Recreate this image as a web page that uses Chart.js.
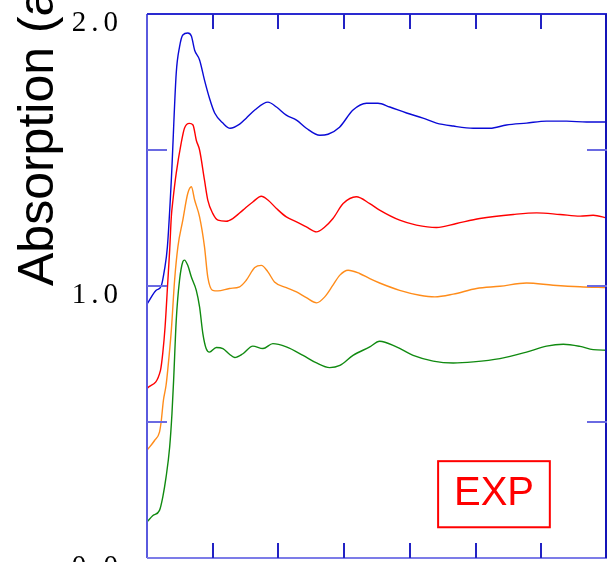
<!DOCTYPE html>
<html>
<head>
<meta charset="utf-8">
<script src="https://cdn.jsdelivr.net/npm/chart.js@4.4.1/dist/chart.umd.min.js"></script>
<style>
    body { margin: 0; background: #fff; }
    #wrap { width: 608px; height: 562px; }
</style>
</head>
<body>
<div id="wrap"><canvas id="xasChart"></canvas></div>
<script>
// energy axis (arbitrary, 0..140) and absorption values
const blueX = [0, 2.8, 4.3, 5.3, 6.2, 7.4, 8.9, 9.9, 10.9, 12.4, 13.5, 14.5, 16.0, 17.5, 19.0, 20.6, 23.1, 25.3, 28.2, 30.2, 32.8, 36.8, 39.4, 42.4, 45.5, 48.5, 52.6, 55.1, 58.6, 62.7, 66.8, 70.3, 73.9, 79.0, 84.0, 88.1, 93.2, 99.3, 104.4, 109.4, 115.5, 121.6, 127.7, 133.8, 140];
const blueY = [0.933, 0.984, 0.999, 1.058, 1.143, 1.389, 1.783, 1.879, 1.923, 1.930, 1.919, 1.867, 1.831, 1.757, 1.691, 1.636, 1.599, 1.580, 1.595, 1.617, 1.647, 1.676, 1.658, 1.628, 1.610, 1.580, 1.554, 1.558, 1.584, 1.647, 1.672, 1.672, 1.658, 1.636, 1.617, 1.599, 1.588, 1.580, 1.580, 1.592, 1.599, 1.606, 1.606, 1.603, 1.603];

const redX = [0, 4.1, 4.8, 5.5, 6.3, 6.9, 7.4, 7.9, 8.9, 10.4, 11.4, 12.9, 14.0, 15.0, 16.0, 17.5, 18.5, 20.0, 21.6, 24.1, 26.1, 29.2, 32.2, 34.8, 36.8, 39.4, 42.4, 45.5, 48.5, 51.6, 54.1, 56.6, 59.7, 63.7, 67.8, 70.8, 76.9, 82.0, 88.1, 94.2, 101.3, 111.5, 118.6, 125.7, 131.8, 135.8, 140];
const redY = [0.623, 0.690, 0.753, 0.849, 1.010, 1.132, 1.254, 1.316, 1.415, 1.525, 1.580, 1.598, 1.592, 1.536, 1.500, 1.389, 1.316, 1.267, 1.242, 1.238, 1.248, 1.279, 1.309, 1.330, 1.316, 1.285, 1.254, 1.236, 1.217, 1.199, 1.217, 1.248, 1.303, 1.328, 1.303, 1.279, 1.242, 1.224, 1.215, 1.230, 1.248, 1.263, 1.269, 1.263, 1.257, 1.260, 1.250];

const orangeX = [0, 2.3, 3.8, 4.3, 5.0, 5.8, 6.3, 7.4, 8.4, 9.4, 10.9, 12.4, 13.5, 14.5, 16.0, 17.5, 18.5, 20.0, 21.6, 25.1, 28.2, 30.2, 32.8, 34.8, 36.8, 38.8, 42.4, 45.5, 48.5, 51.6, 54.1, 56.6, 58.7, 61.2, 64.7, 67.8, 70.8, 76.9, 83.0, 87.6, 93.2, 100.3, 107.4, 115.5, 123.6, 131.8, 140];
const orangeY = [0.396, 0.432, 0.463, 0.500, 0.580, 0.635, 0.690, 0.837, 1.021, 1.144, 1.242, 1.340, 1.365, 1.316, 1.254, 1.144, 1.033, 0.984, 0.982, 0.991, 0.997, 1.021, 1.068, 1.076, 1.052, 1.015, 0.994, 0.978, 0.957, 0.938, 0.960, 1.003, 1.040, 1.058, 1.046, 1.027, 1.011, 0.984, 0.966, 0.960, 0.970, 0.991, 0.999, 1.011, 1.003, 0.997, 0.994];

const greenX = [0, 1.8, 3.8, 4.8, 5.8, 6.9, 7.6, 8.1, 8.9, 9.9, 10.9, 11.4, 12.4, 13.5, 15.0, 16.0, 17.0, 18.0, 19.0, 21.1, 23.1, 25.1, 26.7, 29.2, 32.2, 35.3, 38.3, 42.4, 47.5, 51.6, 55.6, 58.7, 62.7, 67.8, 70.8, 75.9, 81.0, 87.1, 93.2, 99.3, 107.4, 115.5, 121.6, 126.7, 131.8, 135.8, 140];
const greenY = [0.132, 0.156, 0.175, 0.224, 0.297, 0.408, 0.531, 0.653, 0.874, 1.021, 1.089, 1.095, 1.076, 1.033, 0.984, 0.923, 0.825, 0.770, 0.757, 0.774, 0.770, 0.749, 0.737, 0.751, 0.779, 0.770, 0.788, 0.776, 0.745, 0.717, 0.700, 0.708, 0.745, 0.776, 0.797, 0.776, 0.745, 0.724, 0.717, 0.721, 0.733, 0.757, 0.779, 0.786, 0.778, 0.766, 0.764];

const yTickLabels = ['0.0', '1.0', '2.0'];
const yMarkValues = [0.5, 1.0, 1.5];
const xMarkValues = [20, 40, 60, 80, 100, 120];
const yTitle = 'Absorption (a.u.)';
const boxText = 'EXP';
const boxRange = { x0: 88.6, x1: 122.6, y0: 0.356, y1: 0.113 };

function toPoints(xs, ys) {
    return xs.map(function (x, i) { return { x: x, y: ys[i] }; });
}

function makeSet(xs, ys, color) {
    return {
        data: toPoints(xs, ys),
        borderColor: color,
        borderWidth: 1.4,
        pointRadius: 0,
        cubicInterpolationMode: 'monotone',
        fill: false
    };
}

// wider spacing for the serif tick labels
const spacingPlugin = {
    id: 'spacing',
    beforeDraw: function (chart) { chart.ctx.letterSpacing = '5px'; },
    beforeDatasetsDraw: function (chart) { chart.ctx.letterSpacing = '0px'; }
};

// box frame with inward tick marks, the rotated title and the EXP label
const framePlugin = {
    id: 'frame',
    afterDraw: function (chart) {
        const ctx = chart.ctx;
        const a = chart.chartArea;
        const xs = chart.scales.x;
        const ys = chart.scales.y;
        ctx.save();
        ctx.letterSpacing = '0px';
        ctx.lineWidth = 2;

        ctx.strokeStyle = '#5a5ade';
        ctx.beginPath(); ctx.moveTo(a.left, a.top); ctx.lineTo(a.left, a.bottom); ctx.stroke();
        ctx.strokeStyle = '#7c7ce8';
        ctx.beginPath(); ctx.moveTo(a.left, a.bottom); ctx.lineTo(a.right, a.bottom); ctx.stroke();
        ctx.strokeStyle = '#2a2ad0';
        ctx.beginPath(); ctx.moveTo(a.left, a.top); ctx.lineTo(a.right, a.top); ctx.stroke();
        ctx.strokeStyle = '#1414b8';
        ctx.beginPath(); ctx.moveTo(a.right - 1, a.top); ctx.lineTo(a.right - 1, a.bottom); ctx.stroke();

        ctx.strokeStyle = '#2222c4';
        xMarkValues.forEach(function (v) {
            const px = Math.round(xs.getPixelForValue(v));
            ctx.beginPath(); ctx.moveTo(px, a.top); ctx.lineTo(px, a.top + 15); ctx.stroke();
            ctx.beginPath(); ctx.moveTo(px, a.bottom); ctx.lineTo(px, a.bottom - 15); ctx.stroke();
        });
        ctx.strokeStyle = '#6a6ae2';
        yMarkValues.forEach(function (v) {
            const py = Math.round(ys.getPixelForValue(v));
            ctx.beginPath(); ctx.moveTo(a.left, py); ctx.lineTo(a.left + 20, py); ctx.stroke();
            ctx.beginPath(); ctx.moveTo(a.right, py); ctx.lineTo(a.right - 20, py); ctx.stroke();
        });

        // y title, starting at the 1.0 level and running upward
        ctx.translate(53, ys.getPixelForValue(1.0));
        ctx.rotate(-Math.PI / 2);
        ctx.fillStyle = '#000';
        ctx.font = '50px "Liberation Sans", Arial, sans-serif';
        ctx.textAlign = 'left';
        ctx.textBaseline = 'alphabetic';
        ctx.fillText(yTitle, 0, 0);
        ctx.restore();

        // EXP label box
        const bx0 = xs.getPixelForValue(boxRange.x0);
        const bx1 = xs.getPixelForValue(boxRange.x1);
        const by0 = ys.getPixelForValue(boxRange.y0);
        const by1 = ys.getPixelForValue(boxRange.y1);
        ctx.save();
        ctx.letterSpacing = '0px';
        ctx.strokeStyle = '#ff0000';
        ctx.lineWidth = 2;
        ctx.strokeRect(bx0, by0, bx1 - bx0, by1 - by0);
        ctx.fillStyle = '#ff0000';
        ctx.font = '40px "Liberation Sans Narrow", "Liberation Sans", sans-serif';
        ctx.textAlign = 'center';
        ctx.textBaseline = 'middle';
        ctx.fillText(boxText, (bx0 + bx1) / 2, (by0 + by1) / 2);
        ctx.restore();
    }
};

const ctx = document.getElementById('xasChart');

new Chart(ctx, {
    type: 'line',
    data: {
        datasets: [
            makeSet(greenX, greenY, '#108a10'),
            makeSet(orangeX, orangeY, '#ff8c1a'),
            makeSet(redX, redY, '#ff0000'),
            makeSet(blueX, blueY, '#0a0ad6')
        ]
    },
    options: {
        responsive: true,
        maintainAspectRatio: false,
        animation: false,
        layout: { padding: { top: 14, right: 1, bottom: 4, left: 0 } },
        plugins: {
            legend: { display: false },
            tooltip: { enabled: false }
        },
        scales: {
            x: {
                type: 'linear',
                min: 0,
                max: 140,
                display: false
            },
            y: {
                min: 0,
                max: 2,
                grid: { display: false },
                border: { display: false },
                ticks: {
                    stepSize: 1,
                    padding: 16,
                    labelOffset: 9,
                    color: '#000',
                    font: { family: '"Liberation Serif", "Times New Roman", serif', size: 29 },
                    callback: function (value, index) {
                        return yTickLabels[index];
                    }
                },
                afterFit: function (scale) {
                    scale.width = 147;
                    scale.paddingTop = 0;
                    scale.paddingBottom = 0;
                }
            }
        }
    },
    plugins: [spacingPlugin, framePlugin]
});
</script>
</body>
</html>
